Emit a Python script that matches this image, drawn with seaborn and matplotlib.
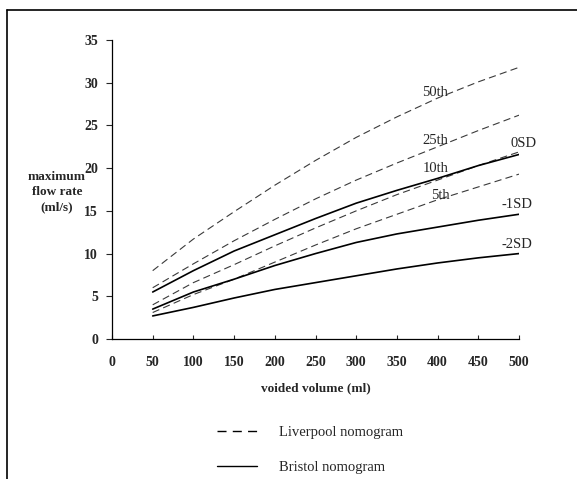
"""
Liverpool vs Bristol nomogram curves: maximum flow rate against voided volume.
"""

import matplotlib.pyplot as plt
import pandas as pd
import seaborn as sns
from matplotlib.lines import Line2D

sns.set_style("white")
plt.rcParams["font.family"] = ["Liberation Serif", "DejaVu Serif"]

volume = [50, 100, 150, 200, 250, 300, 350, 400, 450, 500]

# Liverpool nomogram centiles (dashed)
liverpool_50th = [8.0, 11.7, 14.9, 18.0, 20.9, 23.6, 26.0, 28.2, 30.1, 31.8]
liverpool_25th = [6.0, 8.8, 11.5, 14.0, 16.4, 18.6, 20.6, 22.5, 24.4, 26.2]
liverpool_10th = [4.0, 6.6, 8.7, 10.9, 13.0, 15.0, 16.9, 18.6, 20.3, 21.9]
liverpool_5th = [3.1, 5.2, 7.0, 9.0, 11.0, 12.9, 14.6, 16.3, 17.8, 19.3]

# Bristol nomogram standard deviations (solid)
bristol_0sd = [5.5, 8.0, 10.3, 12.2, 14.1, 15.9, 17.4, 18.8, 20.3, 21.6]
bristol_m1sd = [3.5, 5.5, 7.0, 8.6, 10.0, 11.3, 12.3, 13.1, 13.9, 14.6]
bristol_m2sd = [2.7, 3.7, 4.8, 5.8, 6.6, 7.4, 8.2, 8.9, 9.5, 10.0]

curve_names = ["50th", "25th", "10th", "5th", "0SD", "-1SD", "-2SD"]
curve_values = [liverpool_50th, liverpool_25th, liverpool_10th, liverpool_5th,
                bristol_0sd, bristol_m1sd, bristol_m2sd]
curve_source = ["Liverpool"] * 4 + ["Bristol"] * 3

# label anchor positions (data coords) for the curve names
label_x = [397, 397, 397, 404, 505, 497, 497]
label_y = [28.8, 23.2, 19.9, 16.8, 22.9, 15.8, 11.1]

x_ticks = list(range(0, 501, 50))
y_ticks = list(range(0, 36, 5))

rows = []
for name, vals, src in zip(curve_names, curve_values, curve_source):
    for v, f in zip(volume, vals):
        rows.append({"volume": v, "flow": f, "curve": name, "source": src})
df = pd.DataFrame(rows)

fig = plt.figure(figsize=(5.77, 4.79), dpi=100)
ax = fig.add_axes([112 / 577, 1 - 339 / 479, 407 / 577, 299 / 479])

for name in curve_names:
    sub = df[df["curve"] == name]
    if sub["source"].iloc[0] == "Liverpool":
        sns.lineplot(data=sub, x="volume", y="flow", ax=ax, color="#3a3a3a",
                     linewidth=0.8, estimator=None)
        ax.lines[-1].set_dashes((6.5, 3.8))
    else:
        sns.lineplot(data=sub, x="volume", y="flow", ax=ax, color="black",
                     linewidth=1.2, estimator=None)

for name, lx, ly in zip(curve_names, label_x, label_y):
    ax.text(lx, ly, name, fontsize=10.5, ha="center", va="center")

ax.set_xlim(0, 500)
ax.set_ylim(0, 35)
ax.set_xticks(x_ticks)
ax.set_yticks(y_ticks)
ax.tick_params(axis="x", direction="in", length=3, width=0.8, pad=12,
               labelsize=10, bottom=True)
ax.tick_params(axis="y", direction="out", length=4, width=0.8, pad=6,
               labelsize=10, left=True)
for lbl in ax.get_xticklabels() + ax.get_yticklabels():
    lbl.set_fontweight("bold")

sns.despine(ax=ax)
for side in ["left", "bottom"]:
    ax.spines[side].set_color("black")
    ax.spines[side].set_linewidth(0.9)

ax.set_xlabel("voided volume (ml)", fontsize=9.5, fontweight="bold",
              labelpad=10)
ax.set_ylabel("")
fig.text(57 / 577, 1 - 192 / 479, "maximum\nflow rate\n(ml/s)", fontsize=9.5,
         fontweight="bold", ha="center", va="center", linespacing=1.35)

# legend
handles = [Line2D([], [], color="black", linewidth=1.0, dashes=(6.5, 4.5)),
           Line2D([], [], color="black", linewidth=1.0)]
fig.legend(handles, ["Liverpool nomogram", "Bristol nomogram"],
           loc="center", bbox_to_anchor=(310 / 577, 1 - 450 / 479),
           frameon=False, fontsize=10.5, handlelength=2.7,
           handletextpad=1.5, labelspacing=1.5)

# page frame (top and left edges)
fig.add_artist(Line2D([7 / 577, 1], [1 - 10 / 479] * 2, color="black",
                      linewidth=1.2, transform=fig.transFigure))
fig.add_artist(Line2D([7 / 577] * 2, [0, 1 - 10 / 479], color="black",
                      linewidth=1.2, transform=fig.transFigure))

fig.savefig("out.png", dpi=100)
plt.close(fig)
